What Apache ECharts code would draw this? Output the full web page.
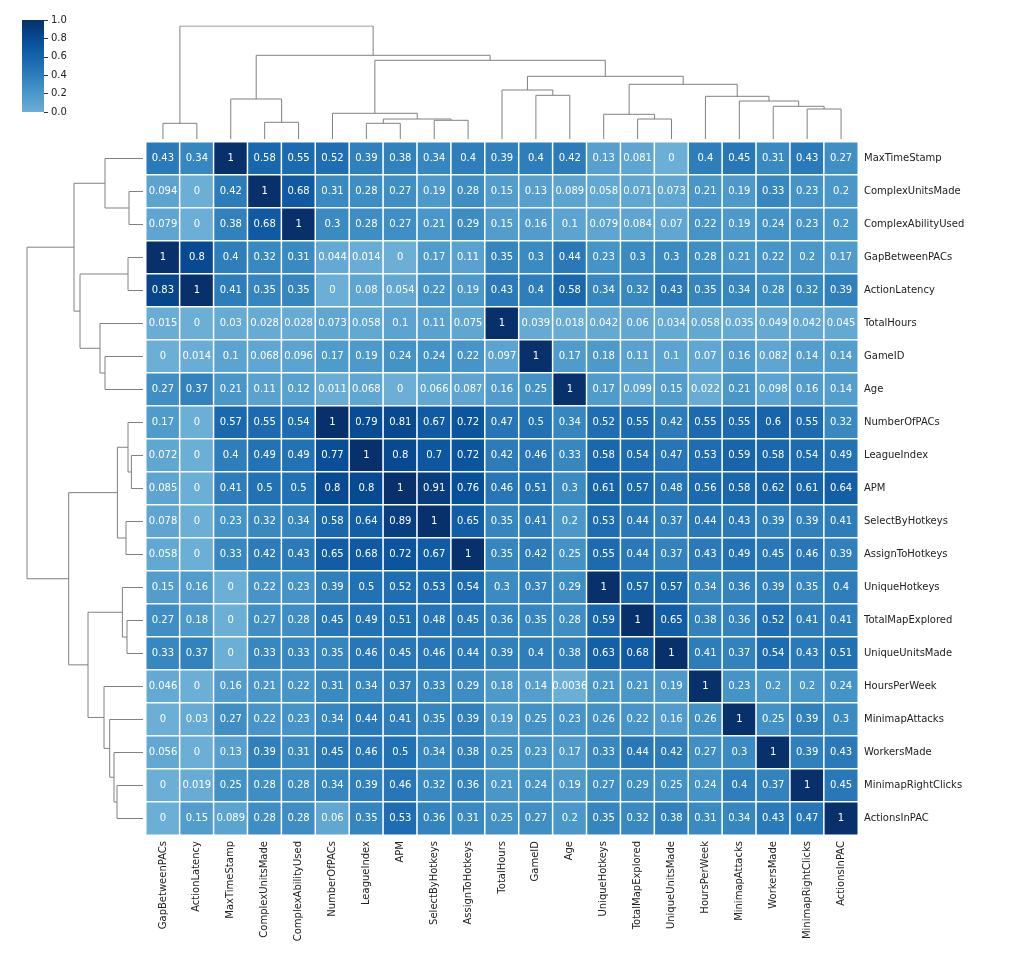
<!DOCTYPE html>
<html><head><meta charset="utf-8">
<script src="https://cdn.jsdelivr.net/npm/echarts@6/dist/echarts.min.js"></script>
<style>html,body{margin:0;padding:0;background:#fff}#c{width:1009px;height:967px}</style>
</head><body><div id="c"></div><script>
const colLabels = ['GapBetweenPACs','ActionLatency','MaxTimeStamp','ComplexUnitsMade','ComplexAbilityUsed','NumberOfPACs','LeagueIndex','APM','SelectByHotkeys','AssignToHotkeys','TotalHours','GameID','Age','UniqueHotkeys','TotalMapExplored','UniqueUnitsMade','HoursPerWeek','MinimapAttacks','WorkersMade','MinimapRightClicks','ActionsInPAC'];
const rowLabels = ['MaxTimeStamp','ComplexUnitsMade','ComplexAbilityUsed','GapBetweenPACs','ActionLatency','TotalHours','GameID','Age','NumberOfPACs','LeagueIndex','APM','SelectByHotkeys','AssignToHotkeys','UniqueHotkeys','TotalMapExplored','UniqueUnitsMade','HoursPerWeek','MinimapAttacks','WorkersMade','MinimapRightClicks','ActionsInPAC'];
const values = [
 [0.43,0.34,1,0.58,0.55,0.52,0.39,0.38,0.34,0.4,0.39,0.4,0.42,0.13,0.081,0,0.4,0.45,0.31,0.43,0.27],
 [0.094,0,0.42,1,0.68,0.31,0.28,0.27,0.19,0.28,0.15,0.13,0.089,0.058,0.071,0.073,0.21,0.19,0.33,0.23,0.2],
 [0.079,0,0.38,0.68,1,0.3,0.28,0.27,0.21,0.29,0.15,0.16,0.1,0.079,0.084,0.07,0.22,0.19,0.24,0.23,0.2],
 [1,0.8,0.4,0.32,0.31,0.044,0.014,0,0.17,0.11,0.35,0.3,0.44,0.23,0.3,0.3,0.28,0.21,0.22,0.2,0.17],
 [0.83,1,0.41,0.35,0.35,0,0.08,0.054,0.22,0.19,0.43,0.4,0.58,0.34,0.32,0.43,0.35,0.34,0.28,0.32,0.39],
 [0.015,0,0.03,0.028,0.028,0.073,0.058,0.1,0.11,0.075,1,0.039,0.018,0.042,0.06,0.034,0.058,0.035,0.049,0.042,0.045],
 [0,0.014,0.1,0.068,0.096,0.17,0.19,0.24,0.24,0.22,0.097,1,0.17,0.18,0.11,0.1,0.07,0.16,0.082,0.14,0.14],
 [0.27,0.37,0.21,0.11,0.12,0.011,0.068,0,0.066,0.087,0.16,0.25,1,0.17,0.099,0.15,0.022,0.21,0.098,0.16,0.14],
 [0.17,0,0.57,0.55,0.54,1,0.79,0.81,0.67,0.72,0.47,0.5,0.34,0.52,0.55,0.42,0.55,0.55,0.6,0.55,0.32],
 [0.072,0,0.4,0.49,0.49,0.77,1,0.8,0.7,0.72,0.42,0.46,0.33,0.58,0.54,0.47,0.53,0.59,0.58,0.54,0.49],
 [0.085,0,0.41,0.5,0.5,0.8,0.8,1,0.91,0.76,0.46,0.51,0.3,0.61,0.57,0.48,0.56,0.58,0.62,0.61,0.64],
 [0.078,0,0.23,0.32,0.34,0.58,0.64,0.89,1,0.65,0.35,0.41,0.2,0.53,0.44,0.37,0.44,0.43,0.39,0.39,0.41],
 [0.058,0,0.33,0.42,0.43,0.65,0.68,0.72,0.67,1,0.35,0.42,0.25,0.55,0.44,0.37,0.43,0.49,0.45,0.46,0.39],
 [0.15,0.16,0,0.22,0.23,0.39,0.5,0.52,0.53,0.54,0.3,0.37,0.29,1,0.57,0.57,0.34,0.36,0.39,0.35,0.4],
 [0.27,0.18,0,0.27,0.28,0.45,0.49,0.51,0.48,0.45,0.36,0.35,0.28,0.59,1,0.65,0.38,0.36,0.52,0.41,0.41],
 [0.33,0.37,0,0.33,0.33,0.35,0.46,0.45,0.46,0.44,0.39,0.4,0.38,0.63,0.68,1,0.41,0.37,0.54,0.43,0.51],
 [0.046,0,0.16,0.21,0.22,0.31,0.34,0.37,0.33,0.29,0.18,0.14,0.0036,0.21,0.21,0.19,1,0.23,0.2,0.2,0.24],
 [0,0.03,0.27,0.22,0.23,0.34,0.44,0.41,0.35,0.39,0.19,0.25,0.23,0.26,0.22,0.16,0.26,1,0.25,0.39,0.3],
 [0.056,0,0.13,0.39,0.31,0.45,0.46,0.5,0.34,0.38,0.25,0.23,0.17,0.33,0.44,0.42,0.27,0.3,1,0.39,0.43],
 [0,0.019,0.25,0.28,0.28,0.34,0.39,0.46,0.32,0.36,0.21,0.24,0.19,0.27,0.29,0.25,0.24,0.4,0.37,1,0.45],
 [0,0.15,0.089,0.28,0.28,0.06,0.35,0.53,0.36,0.31,0.25,0.27,0.2,0.35,0.32,0.38,0.31,0.34,0.43,0.47,1]
];
// linkage: [nodeA, nodeB, height]; nodes < 21 are leaves (display order), >= 21 earlier merges
const colLinkage = [
 [0,1,15.7],[3,4,16.7],[2,22,40],[6,7,15.7],[8,9,18.7],[24,25,20],[5,26,25.7],
 [11,12,43.7],[10,28,49],[14,15,20],[13,30,24.7],[19,20,30],[18,32,32.7],[17,33,38],
 [16,34,42.7],[31,35,54.7],[29,36,62.7],[27,37,78.7],[23,38,83.7],[21,39,113]
];
const rowLinkage = [
 [1,2,14],[0,21,38],[3,4,15],[6,7,38],[5,24,43],[23,25,63],[22,26,69],
 [9,10,11.6],[8,28,15],[11,12,17],[29,30,25.6],[14,15,16],[13,32,20.6],[19,20,26],
 [18,34,29],[17,35,33.3],[16,36,39],[33,37,55],[31,38,74.3],[27,39,116]
];
const colorStops = ['#6baed6','#4292c6','#2171b5','#08519c','#08306b'];

function dendro(linkage, n, vertical) {
  const pos = [], ht = [], out = [];
  for (let i = 0; i < n; i++) { pos[i] = i + 0.5; ht[i] = 0; }
  linkage.forEach(([a, b, h], k) => {
    const pts = [[pos[a], ht[a]], [pos[a], h], [pos[b], h], [pos[b], ht[b]]];
    out.push({ coords: vertical ? pts : pts.map(p => [p[1], p[0]]) });
    pos[n + k] = (pos[a] + pos[b]) / 2; ht[n + k] = h;
  });
  return out;
}
const heatData = [];
values.forEach((row, r) => row.forEach((v, c) => heatData.push([c, r, v])));

const chart = echarts.init(document.getElementById('c'));
const lab = { fontSize: 10, color: '#222', fontFamily: 'DejaVu Sans' };
chart.setOption({
  backgroundColor: '#fff',
  animation: false,
  grid: [
    { left: 146, top: 142, width: 712, height: 693 },
    { left: 146, top: 26, width: 712, height: 113 },
    { left: 27, top: 142, width: 116, height: 693 },
    { left: 22, top: 20, width: 22, height: 92, show: true, borderWidth: 0,
      backgroundColor: new echarts.graphic.LinearGradient(0, 0, 0, 1,
        colorStops.slice().reverse().map((c, i) => ({ offset: i / (colorStops.length - 1), color: c }))) }
  ],
  xAxis: [
    { type: 'category', gridIndex: 0, data: colLabels, position: 'bottom',
      axisLine: { show: false }, splitLine: { show: false },
      axisTick: { alignWithLabel: true, length: 4, lineStyle: { color: '#333' } },
      axisLabel: Object.assign({ rotate: 90, margin: 6, interval: 0 }, lab) },
    { type: 'value', gridIndex: 1, min: 0, max: 21, show: false },
    { type: 'value', gridIndex: 2, min: 0, max: 116, inverse: true, show: false },
    { type: 'value', gridIndex: 3, min: 0, max: 1, show: false }
  ],
  yAxis: [
    { type: 'category', gridIndex: 0, data: rowLabels, inverse: true, position: 'right',
      axisLine: { show: false }, splitLine: { show: false },
      axisTick: { alignWithLabel: true, length: 4, lineStyle: { color: '#333' } },
      axisLabel: Object.assign({ margin: 6, interval: 0 }, lab) },
    { type: 'value', gridIndex: 1, min: 0, max: 113, show: false },
    { type: 'value', gridIndex: 2, min: 0, max: 21, inverse: true, show: false },
    { type: 'value', gridIndex: 3, min: 0, max: 1, interval: 0.2, position: 'right',
      axisLine: { show: false, onZero: false }, splitLine: { show: false },
      axisTick: { show: true, inside: false, length: 4, lineStyle: { color: '#333', width: 1 } },
      axisLabel: Object.assign({ margin: 7, formatter: v => v.toFixed(1) }, lab) }
  ],
  visualMap: {
    show: false, type: 'continuous', min: 0, max: 1, seriesIndex: 0,
    inRange: { color: colorStops }
  },
  series: [
    { type: 'heatmap', xAxisIndex: 0, yAxisIndex: 0, data: heatData,
      itemStyle: { borderColor: '#fff', borderWidth: 1.5 },
      label: { show: true, color: '#fff', fontSize: 10, fontFamily: 'DejaVu Sans',
        formatter: p => String(p.value[2]) },
      emphasis: { disabled: true } },
    { type: 'lines', coordinateSystem: 'cartesian2d', xAxisIndex: 1, yAxisIndex: 1, polyline: true,
      silent: true, data: dendro(colLinkage, 21, true),
      lineStyle: { color: '#808080', width: 1, opacity: 1 } },
    { type: 'lines', coordinateSystem: 'cartesian2d', xAxisIndex: 2, yAxisIndex: 2, polyline: true,
      silent: true, data: dendro(rowLinkage, 21, false),
      lineStyle: { color: '#808080', width: 1, opacity: 1 } },
    { type: 'line', xAxisIndex: 3, yAxisIndex: 3, data: [], silent: true }
  ]
});
</script></body></html>
